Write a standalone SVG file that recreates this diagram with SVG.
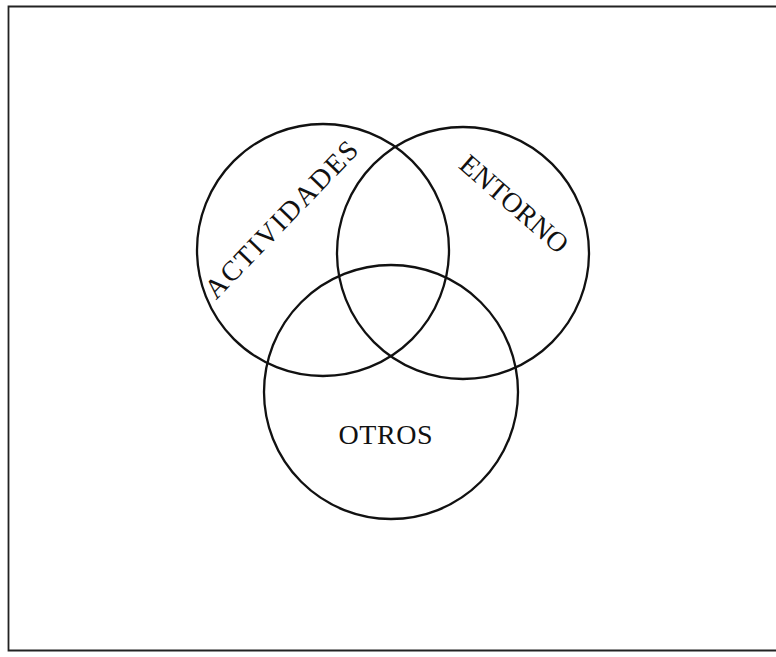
<svg xmlns="http://www.w3.org/2000/svg" width="776" height="657" viewBox="0 0 776 657">
<style>
.c{fill:none;stroke:#111;stroke-width:2.3}
.t{font-family:"Liberation Serif","Times New Roman",serif;font-size:28px;fill:#111;text-anchor:middle}
</style>
<rect width="776" height="657" fill="#fff"/>
<path d="M776,6.5 H8.5 V650.5 H776" fill="none" stroke="#222" stroke-width="1.8"/>
<g id="actividades">
<circle class="c" cx="323" cy="250" r="126"/>
<text class="t" transform="translate(288,226) rotate(-46)" textLength="207" lengthAdjust="spacing">ACTIVIDADES</text>
</g>
<g id="entorno">
<circle class="c" cx="463" cy="253" r="126"/>
<text class="t" transform="translate(508,211) rotate(41)" textLength="134" lengthAdjust="spacing">ENTORNO</text>
</g>
<g id="otros">
<circle class="c" cx="391" cy="392" r="127"/>
<text class="t" x="385.5" y="444" textLength="94" lengthAdjust="spacing">OTROS</text>
</g>
<g id="connectors"/>
</svg>
